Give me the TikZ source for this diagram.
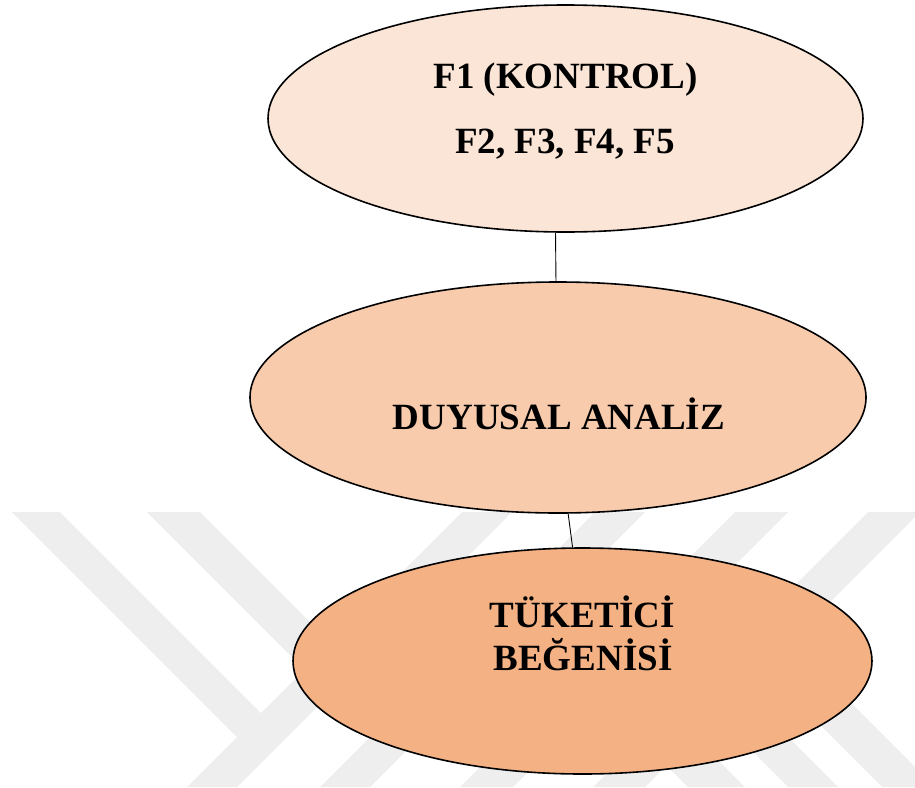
\documentclass[tikz,border=0pt]{standalone}
\usepackage{fontspec}
\setmainfont{Liberation Serif}
\usetikzlibrary{shapes.geometric}
\definecolor{fillA}{HTML}{FBE5D6}
\definecolor{fillB}{HTML}{F8CBAD}
\definecolor{fillC}{HTML}{F4B183}
\definecolor{wm}{HTML}{EEEEEE}
\begin{document}
\begin{tikzpicture}[x=1pt,y=-1pt,
  oval/.style={ellipse, draw=black, line width=1.6pt, inner sep=0pt},
  lbl/.style={font=\fontsize{37}{43}\selectfont\bfseries, anchor=base, inner sep=0pt},
  link/.style={draw=black, line width=0.9pt}]
\useasboundingbox (0,0) rectangle (915,787);
% watermark
\begin{scope}
\clip (0,0) rectangle (915,787);
\fill[wm] (462,512) -- (512,512) -- (237,787) -- (187,787) -- cycle;
\fill[wm] (595,512) -- (645,512) -- (370,787) -- (320,787) -- cycle;
\fill[wm] (735,512) -- (788,512) -- (513,787) -- (460,787) -- cycle;
\fill[wm] (868,512) -- (920,512) -- (645,787) -- (593,787) -- cycle;
\fill[wm] (12,512) -- (60,512) -- (261,713) -- (237,737) -- cycle;
\fill[wm] (147,512) -- (200,512) -- (397.5,709.5) -- (371,736) -- cycle;
\fill[wm] (529,628) -- (557.5,599.5) -- (745,787) -- (688,787) -- cycle;
\fill[wm] (650.5,649.5) -- (675.5,624.5) -- (838,787) -- (788,787) -- cycle;
\fill[wm] (763.5,668.5) -- (790,642) -- (935,787) -- (882,787) -- cycle;
\end{scope}
% ellipses
\node[oval, fill=fillA, minimum width=595pt, minimum height=227pt] (top) at (565.5,118.5) {};
\node[oval, fill=fillB, minimum width=616pt, minimum height=231pt] (mid) at (558,397.5) {};
\node[oval, fill=fillC, minimum width=579pt, minimum height=226pt] (bot) at (582.5,661) {};
% connectors
\draw[link] (top.265.2) -- (mid.91);
\draw[link] (mid.275.9) -- (bot.95.8);
% texts
\node[lbl] (t1) at (565.5,88) {F1 (KONTROL)};
\node[lbl] (t2) at (565,153) {F2, F3, F4, F5};
\node[lbl] (t3) at (559,429) {DUYUSAL ANALİZ};
\node[lbl] (t4) at (582.5,627) {TÜKETİCİ};
\node[lbl] (t5) at (583,670) {BEĞENİSİ};
\end{tikzpicture}
\end{document}
